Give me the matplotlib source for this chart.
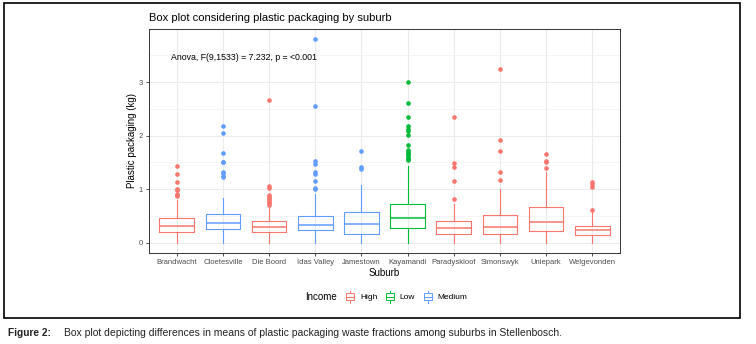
import matplotlib
matplotlib.use('Agg')
import matplotlib.pyplot as plt
from matplotlib.legend_handler import HandlerBase
from matplotlib.patches import Rectangle
from matplotlib.lines import Line2D
from matplotlib.ticker import MultipleLocator

plt.rcParams['font.family'] = ['Liberation Sans', 'DejaVu Sans']

# ---- data ----
suburbs = ['Brandwacht', 'Cloetesville', 'Die Boord', 'Idas Valley', 'Jamestown',
           'Kayamandi', 'Paradyskloof', 'Simonswyk', 'Uniepark', 'Welgevonden']
income = ['High', 'Medium', 'High', 'Medium', 'Medium',
          'Low', 'High', 'High', 'High', 'High']
q1 = [0.20, 0.26, 0.21, 0.23, 0.17, 0.27, 0.16, 0.17, 0.22, 0.15]
med = [0.31, 0.37, 0.29, 0.34, 0.35, 0.46, 0.28, 0.29, 0.39, 0.24]
q3 = [0.47, 0.53, 0.40, 0.50, 0.57, 0.73, 0.40, 0.51, 0.67, 0.32]
whislo = [0, 0, 0, 0, 0, 0, 0, 0, 0, 0]
whishi = [0.80, 0.83, 0.67, 0.91, 1.08, 1.43, 0.73, 1.00, 1.33, 0.60]
fliers = [
    [1.43, 1.29, 1.14, 1.00, 0.98, 0.92, 0.90, 0.88],
    [2.18, 2.05, 1.67, 1.51, 1.50, 1.32, 1.30, 1.24, 1.22],
    [2.66, 1.06, 1.03, 0.89, 0.86, 0.83, 0.80, 0.77, 0.74, 0.71],
    [3.80, 2.56, 1.53, 1.48, 1.33, 1.28, 1.16, 1.03, 1.00],
    [1.71, 1.41, 1.38],
    [3.00, 2.60, 2.34, 2.18, 2.13, 2.08, 2.01, 1.83, 1.74, 1.71,
     1.68, 1.65, 1.62, 1.59, 1.56, 1.54],
    [2.34, 1.49, 1.41, 1.15, 0.81],
    [3.24, 1.92, 1.72, 1.33, 1.17],
    [1.65, 1.52, 1.50, 1.39],
    [1.13, 1.10, 1.05, 0.61],
]
income_levels = ['High', 'Low', 'Medium']
income_colors = {'High': '#F8766D', 'Low': '#00BA38', 'Medium': '#619CFF'}

fig = plt.figure(figsize=(7.56, 3.44), dpi=100)
ax = fig.add_axes([149/756, 1 - 253/344, (620 - 149)/756, (253 - 29)/344])

stats = []
for i in range(len(suburbs)):
    stats.append(dict(label=suburbs[i], q1=q1[i], med=med[i], q3=q3[i],
                      whislo=whislo[i], whishi=whishi[i], fliers=fliers[i]))

positions = list(range(1, len(suburbs) + 1))
for i, st in enumerate(stats):
    c = income_colors[income[i]]
    ax.bxp([st], positions=[positions[i]], widths=0.75, patch_artist=False,
           showcaps=False,
           boxprops=dict(color=c, lw=0.8),
           whiskerprops=dict(color=c, lw=0.8),
           medianprops=dict(color=c, lw=1.1),
           flierprops=dict(marker='o', markersize=2.3, markerfacecolor=c,
                           markeredgecolor=c, linestyle='none'))

ax.set_xlim(0.4, len(suburbs) + 0.6)
ax.set_ylim(-0.19, 3.99)
ax.set_xticks(positions)
ax.set_xticklabels(suburbs)
ax.yaxis.set_major_locator(MultipleLocator(1))
ax.yaxis.set_minor_locator(MultipleLocator(0.5))
ax.set_axisbelow(True)
ax.grid(True, which='major', color='#EBEBEB', lw=0.8)
ax.grid(True, which='minor', axis='y', color='#F2F2F2', lw=0.5)
ax.tick_params(axis='both', which='major', labelsize=5.5, labelcolor='#4D4D4D',
               color='#333333', length=2.5, width=0.6, pad=2)
ax.tick_params(axis='y', which='minor', length=0)
for s in ax.spines.values():
    s.set_color('#333333')
    s.set_linewidth(0.7)

ax.set_xlabel('Suburb', fontsize=7, labelpad=1)
ax.set_ylabel('Plastic packaging (kg)', fontsize=7, labelpad=1)
ax.set_title('Box plot considering plastic packaging by suburb', fontsize=8,
             loc='left', pad=6)
ax.text(0.87, 3.46, 'Anova, F(9,1533) = 7.232, p = <0.001', fontsize=6.3,
        ha='left', va='center')


class BoxHandler(HandlerBase):
    def create_artists(self, legend, orig_handle, xdescent, ydescent,
                       width, height, fontsize, trans):
        c = orig_handle.get_edgecolor()
        cx = width / 2 - xdescent
        rect = Rectangle((width * 0.15 - xdescent, height * 0.1 - ydescent),
                         width * 0.7, height * 0.8, fill=False, edgecolor=c,
                         lw=0.7, transform=trans)
        mid = Line2D([width * 0.15 - xdescent, width * 0.85 - xdescent],
                     [height * 0.5 - ydescent] * 2, color=c, lw=0.8, transform=trans)
        w1 = Line2D([cx, cx], [-ydescent - height * 0.25, height * 0.1 - ydescent],
                    color=c, lw=0.7, transform=trans)
        w2 = Line2D([cx, cx], [height * 0.9 - ydescent, height * 1.25 - ydescent],
                    color=c, lw=0.7, transform=trans)
        return [rect, mid, w1, w2]


handles = [Rectangle((0, 0), 1, 1, fill=False, edgecolor=income_colors[k])
           for k in income_levels]
fig.text(305/756, 1 - 297/344, 'Income', fontsize=7, ha='left', va='center')
fig.legend(handles, income_levels, handler_map={Rectangle: BoxHandler()},
           loc='center left', bbox_to_anchor=(340/756, 1 - 297/344), ncol=3,
           frameon=False, fontsize=6, handlelength=1.4, handleheight=1.1,
           handletextpad=0.5, columnspacing=0.8, borderpad=0)

# outer frame and caption
fig.add_artist(Rectangle((4/756, 1 - 318/344), (740 - 4)/756, (318 - 3)/344,
                         transform=fig.transFigure, fill=False,
                         edgecolor='black', lw=1.2))
fig.text(8/756, 1 - 333/344, 'Figure 2:', fontsize=7.3, fontweight='bold',
         color='#222222', ha='left', va='center',
         family=['Liberation Sans Narrow', 'Liberation Sans'])
fig.text(64/756, 1 - 333/344,
         'Box plot depicting differences in means of plastic packaging waste '
         'fractions among suburbs in Stellenbosch.',
         fontsize=7.5, color='#222222', ha='left', va='center',
         family=['Liberation Sans Narrow', 'Liberation Sans'])

fig.savefig('out.png', dpi=100)
